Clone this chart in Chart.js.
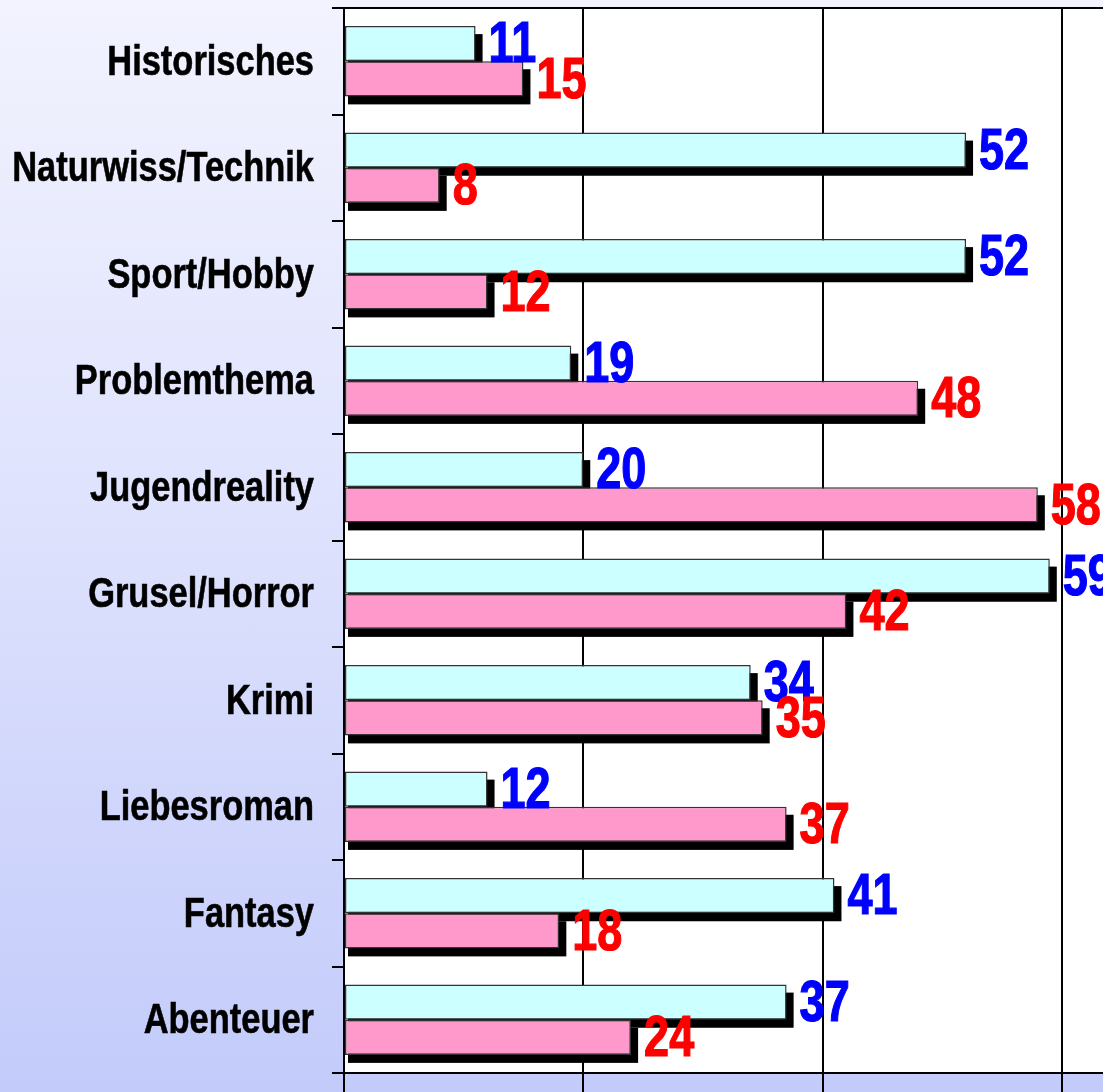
<!DOCTYPE html>
<html>
<head>
<meta charset="utf-8">
<script src="https://cdn.jsdelivr.net/npm/chart.js@4/dist/chart.umd.min.js"></script>
<style>
  html, body {
    margin: 0;
    padding: 0;
    width: 1103px;
    height: 1092px;
    overflow: hidden;
    background: linear-gradient(to bottom, #f2f3fe 0%, #dfe3fd 45%, #c3cbfa 100%);
  }
  #wrap { position: absolute; left: 0; top: 0; }
</style>
</head>
<body>
<div id="wrap"><canvas id="genres" width="1303" height="1092"></canvas></div>
<script>
// Genres and the two reader groups
const genres = ['Historisches', 'Naturwiss/Technik', 'Sport/Hobby', 'Problemthema', 'Jugendreality',
                'Grusel/Horror', 'Krimi', 'Liebesroman', 'Fantasy', 'Abenteuer'];
const boys  = [11, 52, 52, 19, 20, 59, 34, 12, 41, 37];
const girls = [15, 8, 12, 48, 58, 42, 35, 37, 18, 24];
const xTicks = [0, 20, 40, 60, 80];

const fontFamily = '"Liberation Sans", Arial, sans-serif';
const squeeze = 0.82; // narrow look of the labels
Chart.defaults.font.family = fontFamily;

// category axis whose labels are drawn condensed
class NarrowCategoryScale extends Chart.CategoryScale {
    _computeLabelArea() {
        return undefined; // no clipping, labels are squeezed anyway
    }
    drawLabels(chartArea) {
        const ctx = this.ctx;
        const ax = this.right - this.options.grid.tickLength - this.options.ticks.padding;
        ctx.save();
        ctx.translate(ax, 2);
        ctx.scale(squeeze, 1);
        ctx.translate(-ax, 0);
        super.drawLabels(chartArea);
        ctx.restore();
    }
}
NarrowCategoryScale.id = 'narrowCategory';
NarrowCategoryScale.defaults = Chart.CategoryScale.defaults;
Chart.register(NarrowCategoryScale);

// white plot area on top of the page gradient
const plotBg = {
    id: 'plotBg',
    beforeDraw(chart) {
        const a = chart.chartArea, c = chart.ctx;
        c.save();
        c.fillStyle = '#ffffff';
        c.fillRect(a.left, a.top, a.right - a.left, a.bottom - a.top);
        c.restore();
    }
};

// hard black drop shadow under every bar
const barShadow = {
    id: 'barShadow',
    beforeDatasetsDraw(chart) {
        const c = chart.ctx;
        c.save();
        c.fillStyle = '#000000';
        chart.data.datasets.forEach(function (ds, i) {
            chart.getDatasetMeta(i).data.forEach(function (bar) {
                const p = bar.getProps(['x', 'y', 'base', 'height'], true);
                c.fillRect(p.base + 3, p.y - p.height / 2 + 8, p.x - p.base + 4, p.height);
            });
        });
        c.restore();
    }
};

// value next to each bar
const valueLabels = {
    id: 'valueLabels',
    afterDatasetsDraw(chart) {
        const c = chart.ctx;
        chart.data.datasets.forEach(function (ds, i) {
            chart.getDatasetMeta(i).data.forEach(function (bar, j) {
                c.save();
                c.translate(bar.x + 13, bar.y + 3);
                c.scale(0.79, 1);
                c.font = 'bold 57px ' + fontFamily;
                c.textBaseline = 'middle';
                c.textAlign = 'left';
                c.fillStyle = ds.labelColor;
                c.strokeStyle = ds.labelColor;
                c.lineWidth = 1.2;
                c.fillText(String(ds.data[j]), 0, 0);
                c.strokeText(String(ds.data[j]), 0, 0);
                c.restore();
            });
        });
    }
};

new Chart(document.getElementById('genres'), {
    type: 'bar',
    data: {
        labels: genres,
        datasets: [
            {
                label: 'Jungen',
                data: boys,
                backgroundColor: '#ccffff',
                borderColor: '#333333',
                borderWidth: 1.5,
                borderSkipped: false,
                labelColor: '#0000ff'
            },
            {
                label: 'Mädchen',
                data: girls,
                backgroundColor: '#ff99cc',
                borderColor: '#333333',
                borderWidth: 1.5,
                borderSkipped: false,
                labelColor: '#ff0000'
            }
        ]
    },
    options: {
        indexAxis: 'y',
        responsive: false,
        animation: false,
        categoryPercentage: 0.66,
        barPercentage: 1.0,
        layout: { padding: { top: 8, right: 2, left: 0, bottom: 0 } },
        plugins: {
            legend: { display: false },
            tooltip: { enabled: false }
        },
        scales: {
            x: {
                min: xTicks[0],
                max: xTicks[xTicks.length - 1],
                afterBuildTicks(scale) {
                    scale.ticks = xTicks.map(v => ({ value: v }));
                },
                afterFit(scale) {
                    scale.height = 19;
                    scale.paddingLeft = 0;
                    scale.paddingRight = 0;
                },
                ticks: { display: false },
                border: { display: true, color: '#000000', width: 2 },
                grid: {
                    color: '#000000',
                    lineWidth: 2,
                    tickLength: 19
                }
            },
            y: {
                type: 'narrowCategory',
                afterFit(scale) {
                    scale.width = 344;
                    scale.paddingTop = 0;
                    scale.paddingBottom = 0;
                },
                ticks: {
                    color: '#000000',
                    padding: 18,
                    textStrokeColor: '#000000',
                    textStrokeWidth: 0.6,
                    font: { size: 42, weight: 'bold', family: fontFamily }
                },
                border: { display: true, color: '#000000', width: 2 },
                grid: {
                    offset: true,
                    lineWidth: 2,
                    tickLength: 12,
                    tickColor: '#000000',
                    color: function (ctx) {
                        return ctx.index === 0 ? '#000000' : 'rgba(0,0,0,0)';
                    }
                }
            }
        }
    },
    plugins: [plotBg, barShadow, valueLabels]
});
</script>
</body>
</html>
